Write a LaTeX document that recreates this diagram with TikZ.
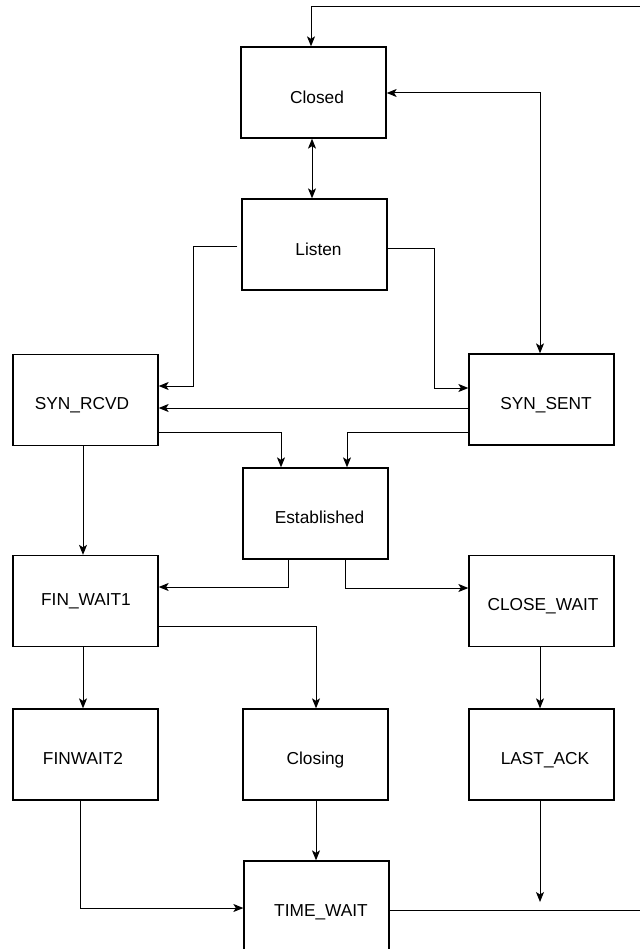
\documentclass[tikz,border=0pt]{standalone}
\usepackage{fontspec}
\setmainfont{Liberation Sans}
\usetikzlibrary{arrows.meta}
\newcommand\stlbl[3]{\makebox[0pt]{\kern#1pt\raisebox{#2pt}{#3}}}
\begin{document}
\begin{tikzpicture}[x=1pt,y=-1pt,
  state/.style={draw=black, line width=1.3pt, minimum width=145pt, minimum height=91pt,
    inner sep=0pt, font=\fontsize{17.3}{20}\selectfont, text height=19.2pt, text depth=0pt},
  tip/.tip={Stealth[length=10pt,width=8pt,inset=2.5pt]},
  conn/.style={draw=black, line width=1pt, -tip},
  conn2/.style={draw=black, line width=1pt, tip-tip}]
\useasboundingbox (0,0) rectangle (639,949);

% states
\node[state] (Closed)      at (313.5,92.5)  {\stlbl{7}{-1}{Closed}};
\node[state] (Listen)      at (314.5,244.5) {\stlbl{8}{-1}{Listen}};
\node[state] (SYN_RCVD)    at (85.5,400)    {\stlbl{-7}{0}{SYN\_RCVD}};
\node[state] (SYN_SENT)    at (541.5,399.5) {\stlbl{9}{0}{SYN\_SENT}};
\node[state] (Established) at (315.5,513.5) {\stlbl{8}{0}{Established}};
\node[state] (FIN_WAIT1)   at (85.5,601)    {\stlbl{1}{5.5}{FIN\_WAIT1}};
\node[state] (CLOSE_WAIT)  at (541.5,601)   {\stlbl{3}{0}{CLOSE\_WAIT}};
\node[state] (FINWAIT2)    at (85.5,754.5)  {\stlbl{-5}{0}{FINWAIT2}};
\node[state] (Closing)     at (315.5,754.5) {\stlbl{0}{0}{Closing}};
\node[state] (LAST_ACK)    at (541.5,754.5) {\stlbl{7}{0}{LAST\_ACK}};
\node[state] (TIME_WAIT)   at (316.5,906.5) {\stlbl{9}{0}{TIME\_WAIT}};
\coordinate (lastend) at (540,902);

% connectors
\draw[conn2] (Closed.south -| 312,0) -- (Listen.north -| 312,0);
\draw[conn2] (Closed.east |- 0,93) -- (540,93) -- (SYN_SENT.north -| 540,0);
\draw[conn] ([xshift=-4pt]Listen.west |- 0,247) -- (193,247) |- (SYN_RCVD.east |- 0,386);
\draw[conn] (Listen.east |- 0,249) -- (434,249) |- (SYN_SENT.west |- 0,388);
\draw[conn] (SYN_SENT.west |- 0,408) -- (SYN_RCVD.east |- 0,408);
\draw[conn] (SYN_RCVD.east |- 0,432) -| (Established.north -| 281,0);
\draw[conn] (SYN_SENT.west |- 0,432) -| (Established.north -| 347,0);
\draw[conn] (SYN_RCVD.south -| 83,0) -- (FIN_WAIT1.north -| 83,0);
\draw[conn] (Established.south -| 288,0) |- (FIN_WAIT1.east |- 0,587);
\draw[conn] (Established.south -| 345,0) |- (CLOSE_WAIT.west |- 0,588);
\draw[conn] (FIN_WAIT1.south -| 83,0) -- (FINWAIT2.north -| 83,0);
\draw[conn] (FIN_WAIT1.east |- 0,626) -| (Closing.north -| 316,0);
\draw[conn] (CLOSE_WAIT.south -| 540,0) -- (LAST_ACK.north -| 540,0);
\draw[conn] (FINWAIT2.south -| 80,0) |- (TIME_WAIT.west |- 0,908);
\draw[conn] (Closing.south -| 316,0) -- (TIME_WAIT.north -| 316,0);
\draw[conn] (LAST_ACK.south -| 540,0) -- (lastend);
\draw[conn] (TIME_WAIT.east |- 0,910) -- (643,910) |- (311,7) -- (Closed.north -| 311,0);
\end{tikzpicture}
\end{document}
